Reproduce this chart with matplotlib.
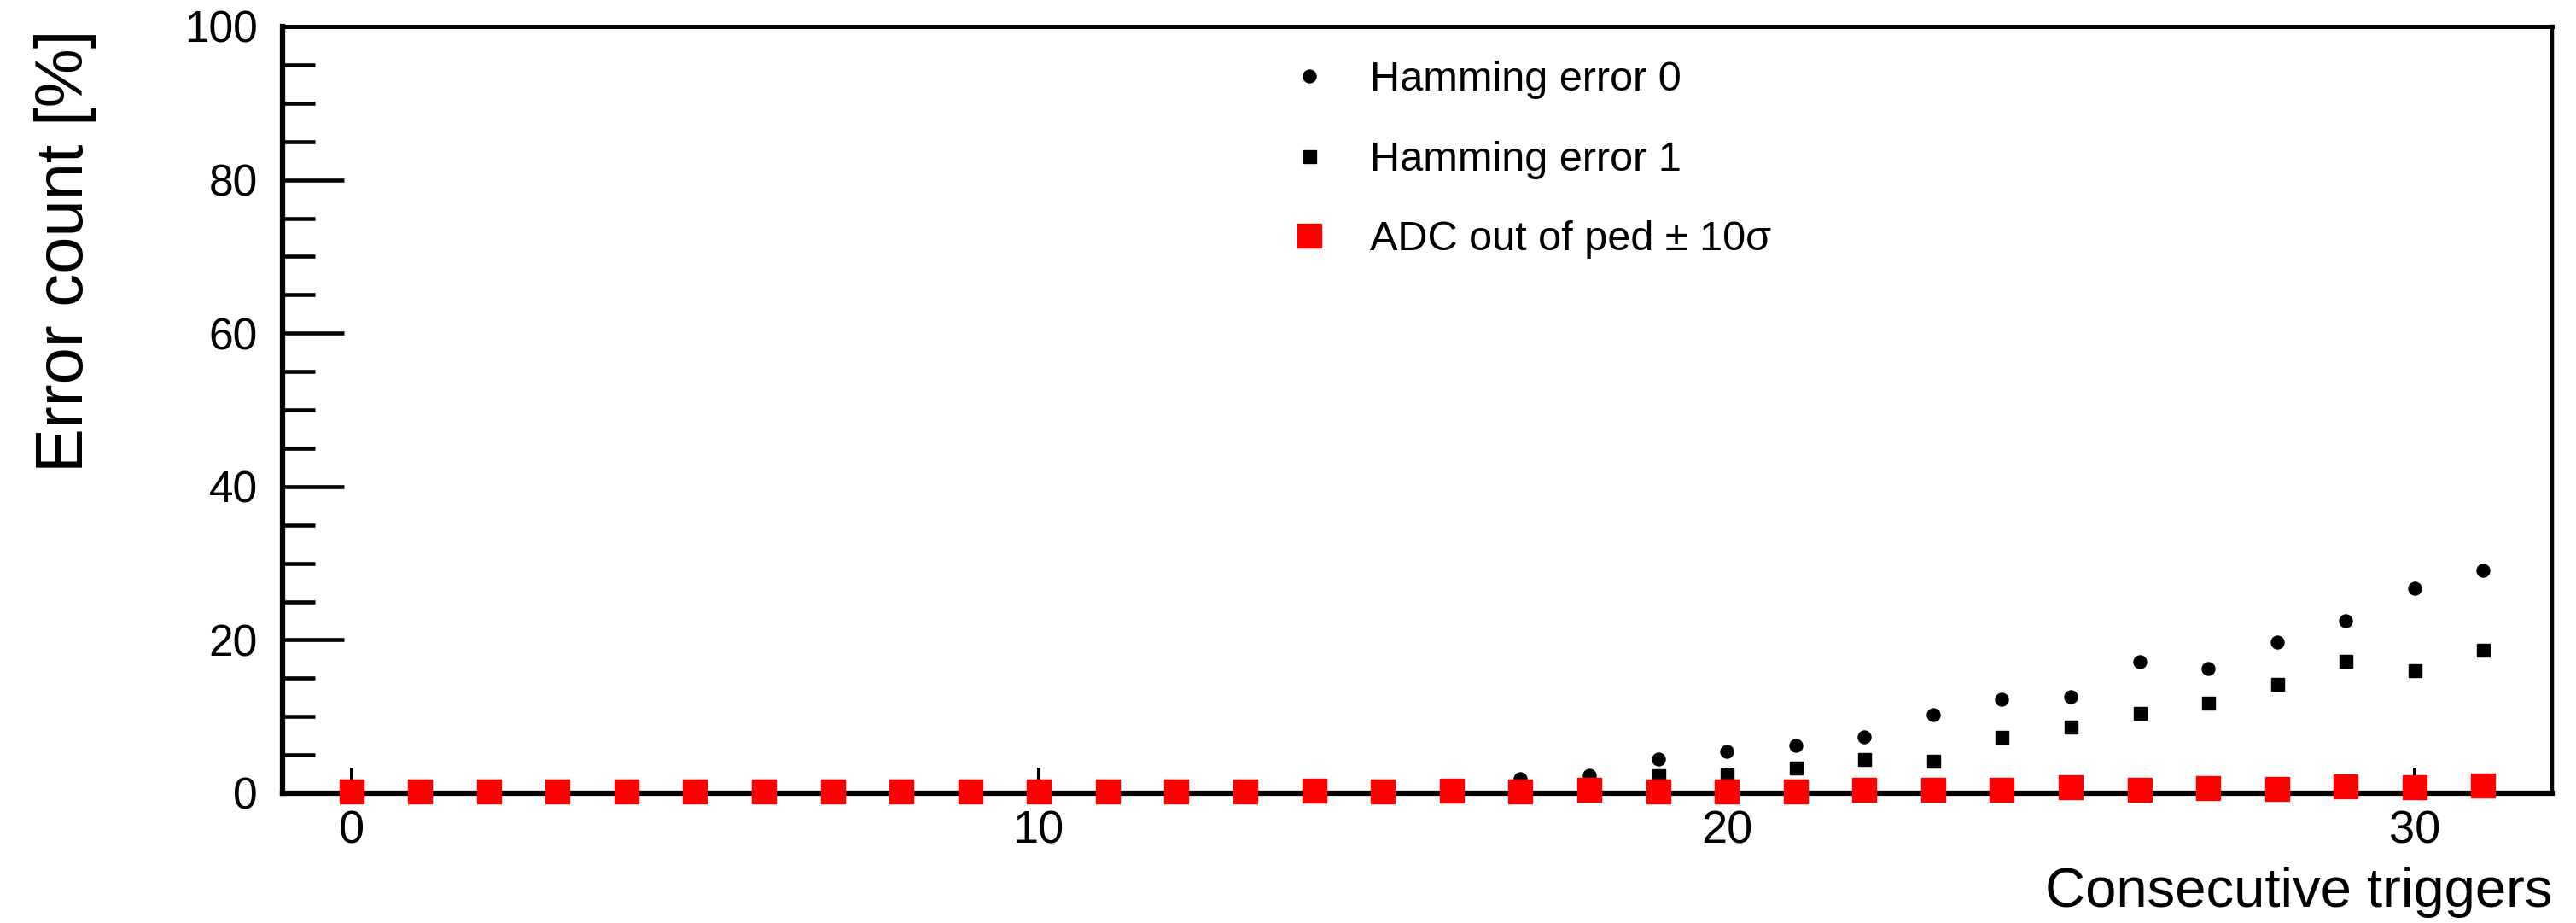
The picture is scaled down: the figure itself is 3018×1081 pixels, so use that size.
import numpy as np
import matplotlib
matplotlib.use("Agg")
import matplotlib.pyplot as plt
from matplotlib.ticker import MultipleLocator

# --- Data ---
triggers = list(range(32))

hamming0 = [0.0, 0.0, 0.0, 0.0, 0.0, 0.0, 0.0, 0.0, 0.0, 0.0,
            0.0, 0.0, 0.0, 0.0, 0.2, 0.3, 0.5, 1.9, 2.3, 4.4,
            5.5, 6.2, 7.3, 10.2, 12.2, 12.6, 17.1, 16.3, 19.7, 22.5,
            26.7, 29.1]

hamming1 = [0.0, 0.0, 0.0, 0.0, 0.0, 0.0, 0.0, 0.0, 0.0, 0.0,
            0.0, 0.0, 0.0, 0.0, 0.0, 0.0, 0.2, 0.4, 0.8, 2.3,
            2.5, 3.3, 4.4, 4.2, 7.3, 8.7, 10.5, 11.8, 14.2, 17.3,
            16.0, 18.7]

adc_out = [0.26, 0.17, 0.17, 0.17, 0.17, 0.17, 0.17, 0.17, 0.26, 0.26,
           0.26, 0.26, 0.26, 0.26, 0.35, 0.26, 0.30, 0.26, 0.45, 0.26,
           0.26, 0.26, 0.45, 0.45, 0.45, 0.80, 0.40, 0.70, 0.55, 0.90,
           0.80, 1.00]

labels = ["Hamming error 0", "Hamming error 1", "ADC out of ped \u00b1 10\u03c3"]

plt.rcParams['font.family'] = ['Liberation Sans', 'DejaVu Sans']

# --- Figure ---
fig = plt.figure(figsize=(30.18, 10.81), dpi=100)
ax = fig.add_axes([331 / 3018, 1 - 929 / 1081, (2990 - 331) / 3018, (929 - 31) / 1081])

ax.plot(triggers, hamming0, 'o', color='black', markersize=10.8,
        label=labels[0], zorder=3, clip_on=False)
ax.plot(triggers, hamming1, 's', color='black', markersize=10.8,
        label=labels[1], zorder=4, clip_on=False)
ax.plot(triggers, adc_out, 's', color='#ff0000', markersize=20.5,
        label=labels[2], zorder=5, clip_on=False)

ax.set_xlim(-1, 32)
ax.set_ylim(0, 100)

ax.xaxis.set_major_locator(MultipleLocator(10))
ax.yaxis.set_major_locator(MultipleLocator(20))
ax.yaxis.set_minor_locator(MultipleLocator(5))

ax.tick_params(axis='y', which='major', direction='in', length=52, width=3.3,
               pad=21, labelsize=37)
ax.tick_params(axis='y', which='minor', direction='in', length=27, width=3.3)
ax.tick_params(axis='x', which='major', direction='in', length=21.6, width=2.9,
               pad=14, labelsize=39)

ax.spines['left'].set_linewidth(4.5)
ax.spines['top'].set_linewidth(3.6)
ax.spines['right'].set_linewidth(3.2)
ax.spines['bottom'].set_linewidth(4.5)
ax.spines['bottom'].set_zorder(2.5)

# axis titles (ROOT style: aligned to the axis ends)
fig.text(77 / 3018, 1 - 35 / 1081, "Error count [%]", rotation=90,
         ha='center', va='top', fontsize=56)
fig.text(2990 / 3018, 1 - 1062 / 1081, "Consecutive triggers", ha='right',
         va='baseline', fontsize=47)

leg = ax.legend(loc='upper left', bbox_to_anchor=((1510 - 331) / (2990 - 331), 1 - 40 / 898),
                frameon=False, numpoints=1, fontsize=35, handlelength=1.0,
                handletextpad=0.95, labelspacing=1.0, borderpad=0, borderaxespad=0)

plt.savefig("out.png", dpi=100)
plt.close()
